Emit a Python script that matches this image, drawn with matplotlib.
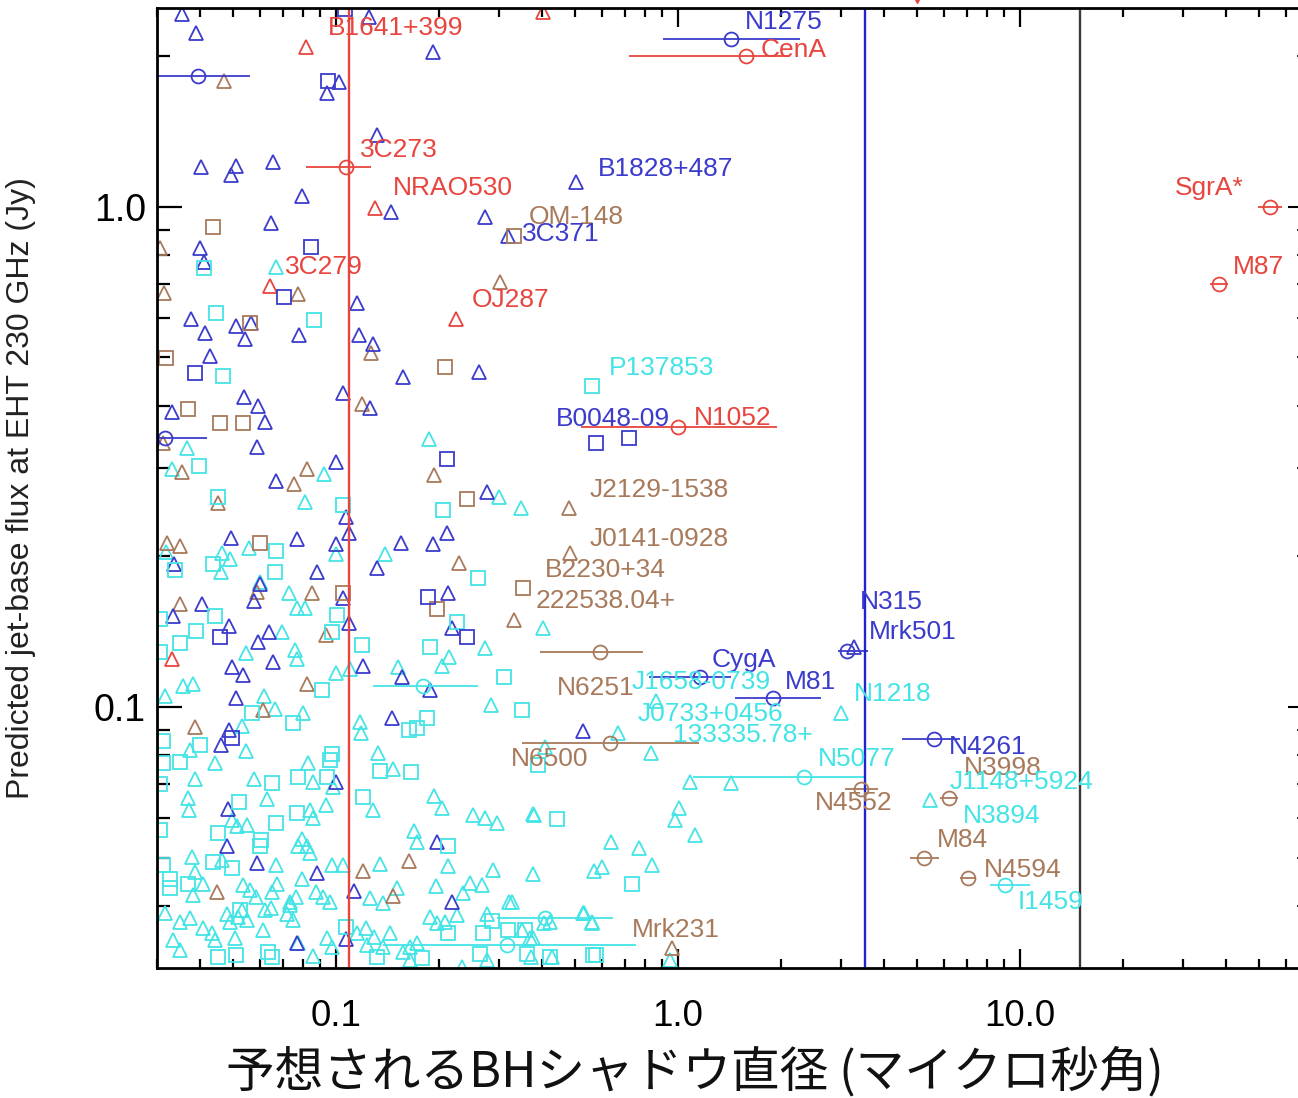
import numpy as np
import matplotlib
matplotlib.use('Agg')
import matplotlib.pyplot as plt
from matplotlib.ticker import LogLocator, NullFormatter

RED = '#e8453f'
BLUE = '#3b3bcc'
BROWN = '#a87a5c'
CYAN = '#44e4e6'

# ---- red sources ----
red_tri_x = [0.0817, 0.403, 0.130, 0.0641, 0.224, 0.0331]
red_tri_y = [2.09, 2.45, 0.995, 0.695, 0.597, 0.125]

red_src = ['3C273', 'CenA', 'N1052', 'SgrA*', 'M87']
red_src_x = [0.107, 1.58, 1.00, 53.8, 38.2]
red_src_y = [1.20, 2.00, 0.363, 1.00, 0.70]
red_src_lo = [0.082, 0.72, 0.52, 49.7, 35.9]
red_src_hi = [0.127, 2.13, 1.95, 58.3, 40.6]

# ---- blue sources ----
blue_src_x = [1.43, 0.0394, 0.0316, 1.16, 1.90, 3.12, 5.61]
blue_src_y = [2.17, 1.83, 0.345, 0.115, 0.104, 0.1294, 0.0863]
blue_src_lo = [0.904, 0.028, 0.028, 0.823, 1.468, 2.94, 4.52]
blue_src_hi = [2.27, 0.0561, 0.0421, 1.43, 2.62, 3.59, 6.68]

blue_sq_x = [0.1063, 0.0947, 0.0846, 0.0705, 0.0387, 0.211, 0.576, 0.720,
             0.186, 0.242, 0.0458, 0.0496]
blue_sq_y = [2.49, 1.79, 0.832, 0.661, 0.465, 0.314, 0.337, 0.345,
             0.166, 0.138, 0.138, 0.0868]

blue_tri_x = [0.0355, 0.0390, 0.125, 0.192, 0.102, 0.0941, 0.132, 0.0403,
              0.0510, 0.0493, 0.0656, 0.0796, 0.145, 0.273, 0.503, 0.318,
              0.0645, 0.0400, 0.0411, 0.115, 0.0377, 0.0414, 0.0510, 0.0565,
              0.0542, 0.0780, 0.117, 0.128, 0.0428, 0.157, 0.262, 0.105,
              0.126, 0.0331, 0.0538, 0.0592, 0.0620, 0.0588, 0.100, 0.0667,
              0.276, 0.107, 0.109, 0.211, 0.192, 0.0493, 0.0769, 0.0999,
              0.155, 0.0336, 0.0880, 0.132, 0.0600, 0.0576, 0.0405, 0.0334,
              0.105, 0.213, 0.109, 0.0487, 0.0637, 0.0592, 0.219, 0.0497,
              0.0535, 0.0656, 0.120, 0.156, 0.188, 0.0510, 0.0487, 0.0462,
              0.146, 0.528, 0.100, 0.0484, 0.197, 0.0480, 0.0588, 0.0880,
              0.113, 0.219, 0.0769, 0.107, 3.27]
blue_tri_y = [2.43, 2.23, 2.40, 2.04, 1.78, 1.69, 1.39, 1.20,
              1.21, 1.16, 1.23, 1.05, 0.977, 0.955, 1.12, 0.875,
              0.929, 0.828, 0.776, 0.643, 0.597, 0.560, 0.578, 0.586,
              0.545, 0.555, 0.555, 0.532, 0.504, 0.457, 0.468, 0.425,
              0.397, 0.389, 0.417, 0.400, 0.372, 0.331, 0.309, 0.283,
              0.269, 0.240, 0.223, 0.223, 0.212, 0.218, 0.217, 0.212,
              0.213, 0.193, 0.186, 0.190, 0.176, 0.163, 0.161, 0.152,
              0.165, 0.169, 0.147, 0.145, 0.141, 0.135, 0.144, 0.120,
              0.116, 0.123, 0.121, 0.115, 0.108, 0.104, 0.0900, 0.0839,
              0.0951, 0.0896, 0.0707, 0.0625, 0.0537, 0.0526, 0.0487, 0.0465,
              0.0429, 0.0407, 0.0337, 0.0344, 0.132]

# ---- brown sources ----
brown_src_x = [0.592, 0.633, 3.43, 6.20, 5.24, 7.05]
brown_src_y = [0.129, 0.0847, 0.0686, 0.0658, 0.0498, 0.0456]
brown_src_lo = [0.395, 0.350, 3.08, 5.84, 4.77, 6.68]
brown_src_hi = [0.79, 1.15, 3.84, 6.59, 5.80, 7.43]

brown_sq_x = [0.0437, 0.332, 0.0318, 0.208, 0.0370, 0.0458, 0.0535, 0.0561,
              0.0600, 0.241, 0.352, 0.197, 0.105]
brown_sq_y = [0.912, 0.875, 0.499, 0.479, 0.395, 0.370, 0.370, 0.586,
              0.213, 0.261, 0.173, 0.157, 0.169]

brown_tri_x = [0.0470, 0.0306, 0.0314, 0.0774, 0.127, 0.119, 0.0312, 0.0355,
               0.0823, 0.0754, 0.0451, 0.193, 0.302, 0.480, 0.484, 0.229,
               0.0321, 0.0350, 0.332, 0.0350, 0.0588, 0.0851, 0.0935, 0.0823,
               0.0612, 0.0387, 0.164, 0.120, 0.0449, 0.147, 0.961]
brown_tri_y = [1.79, 0.828, 0.673, 0.670, 0.510, 0.404, 0.337, 0.295,
               0.299, 0.279, 0.256, 0.291, 0.708, 0.250, 0.203, 0.194,
               0.213, 0.210, 0.149, 0.161, 0.170, 0.169, 0.139, 0.111,
               0.0986, 0.0912, 0.0492, 0.0469, 0.0427, 0.0419, 0.0330]

# ---- cyan sources ----
cyan_src_x = [0.180, 0.409, 0.316, 2.33, 9.03]
cyan_src_y = [0.110, 0.0379, 0.0334, 0.0724, 0.0441]
cyan_src_lo = [0.128, 0.296, 0.137, 1.106, 8.18]
cyan_src_hi = [0.260, 0.646, 0.754, 3.55, 10.7]

cyan_sq_x = [0.0411, 0.0446, 0.0862, 0.0468, 0.0397, 0.0451, 0.105, 0.206,
             0.0338, 0.0437, 0.0670, 0.0663, 0.260, 0.561, 0.0306, 0.0443,
             0.101, 0.0390, 0.0973, 0.0350, 0.119, 0.0306, 0.226, 0.188,
             0.310, 0.350, 0.0910, 0.0568, 0.0747, 0.0312, 0.0400, 0.0350,
             0.0312, 0.0960, 0.0973, 0.163, 0.173, 0.185, 0.1345, 0.166,
             0.0774, 0.0941, 0.0650, 0.0306, 0.0521, 0.0769, 0.0670, 0.0451,
             0.0306, 0.120, 0.213, 0.0600, 0.0605, 0.0312, 0.0437, 0.0496,
             0.0327, 0.0327, 0.0369, 0.443, 0.390, 0.734, 0.318, 0.357,
             0.576, 0.0451, 0.0510, 0.0524, 0.0632, 0.0650, 0.107, 0.213,
             0.269, 0.286, 0.264, 0.362, 0.423, 0.565, 0.179, 0.132]
cyan_sq_y = [0.755, 0.614, 0.594, 0.459, 0.303, 0.263, 0.254, 0.248,
             0.188, 0.193, 0.205, 0.186, 0.181, 0.439, 0.150, 0.152,
             0.153, 0.142, 0.141, 0.134, 0.133, 0.129, 0.148, 0.132,
             0.115, 0.0986, 0.108, 0.0973, 0.0929, 0.0855, 0.0839, 0.0775,
             0.0772, 0.0783, 0.0806, 0.0900, 0.0908, 0.0951, 0.0745, 0.0741,
             0.0724, 0.0724, 0.0704, 0.0701, 0.0646, 0.0613, 0.0586, 0.0560,
             0.0568, 0.0661, 0.0526, 0.0526, 0.0542, 0.0483, 0.0489, 0.0476,
             0.0453, 0.0435, 0.0443, 0.0597, 0.0766, 0.0443, 0.0358, 0.0358,
             0.0319, 0.0316, 0.0319, 0.0393, 0.0323, 0.0316, 0.0363, 0.0353,
             0.0353, 0.0373, 0.0321, 0.0321, 0.0316, 0.0319, 0.0315, 0.0316]

cyan_tri_x = [0.0667, 0.0367, 0.0331, 0.0923, 0.0812, 0.187, 0.299, 0.348,
              0.0318, 0.0464, 0.0490, 0.0555, 0.100, 0.139, 0.0461, 0.0600,
              0.0729, 0.0769, 0.0812, 0.0546, 0.0759, 0.0769, 0.100, 0.110,
              0.152, 0.0696, 0.403, 0.273, 0.214, 0.204, 0.284, 0.0382,
              0.0357, 0.0316, 0.0617, 0.0663, 0.0801, 0.0531, 0.0374, 0.0546,
              0.0443, 0.0829, 0.1175, 0.118, 0.133, 0.147, 0.0857, 0.0979,
              0.0576, 0.0387, 0.0369, 0.0372, 0.0627, 0.0935, 0.0840, 0.0857,
              0.0496, 0.0514, 0.0549, 0.128, 0.193, 0.204, 0.252, 0.273,
              0.296, 0.377, 0.169, 0.172, 0.0796, 0.0823, 0.0774, 0.0840,
              0.0379, 0.0387, 0.0464, 0.0670, 0.0973, 0.105, 0.1345, 0.213,
              0.288, 0.377, 0.0796, 0.0408, 0.0382, 0.0535, 0.0561, 0.0584,
              0.0650, 0.0674, 0.0733, 0.0764, 0.0874, 0.0917, 0.0960, 0.126,
              0.137, 0.151, 0.196, 0.235, 0.247, 0.267, 0.320, 0.276,
              0.423, 0.527, 0.561, 0.0316, 0.0350, 0.0374, 0.0334, 0.0350,
              0.0408, 0.0434, 0.0443, 0.0480, 0.0490, 0.0517, 0.0507, 0.0531,
              0.0549, 0.0612, 0.0620, 0.0645, 0.0720, 0.0747, 0.0733, 0.0774,
              0.0857, 0.0941, 0.0973, 0.115, 0.122, 0.129, 0.123, 0.137,
              0.144, 0.157, 0.165, 0.173, 0.188, 0.197, 0.208, 0.226,
              0.350, 0.369, 0.276, 0.165, 0.233, 0.377, 0.372, 0.428,
              0.947, 0.862, 3.00, 0.668, 0.409, 0.834, 1.084, 1.43,
              5.45, 0.380, 1.007, 0.980, 1.12, 0.637, 0.769, 0.568,
              0.600, 0.839, 0.327, 0.531, 0.406, 0.561]
cyan_tri_y = [0.759, 0.330, 0.299, 0.293, 0.257, 0.344, 0.263, 0.250,
              0.204, 0.203, 0.198, 0.208, 0.202, 0.202, 0.186, 0.178,
              0.169, 0.158, 0.158, 0.128, 0.130, 0.125, 0.117, 0.119,
              0.120, 0.141, 0.144, 0.131, 0.126, 0.121, 0.101, 0.111,
              0.110, 0.105, 0.105, 0.0990, 0.0973, 0.0916, 0.0820, 0.0817,
              0.0772, 0.0772, 0.0933, 0.0888, 0.0810, 0.0752, 0.0707, 0.0692,
              0.0718, 0.0718, 0.0658, 0.0622, 0.0655, 0.0637, 0.0622, 0.0600,
              0.0594, 0.0578, 0.0581, 0.0622, 0.0664, 0.0628, 0.0608, 0.0600,
              0.0586, 0.0611, 0.0565, 0.0536, 0.0545, 0.0528, 0.0528, 0.0511,
              0.0501, 0.0467, 0.0494, 0.0483, 0.0483, 0.0483, 0.0485, 0.0481,
              0.0472, 0.0464, 0.0453, 0.0443, 0.0421, 0.0441, 0.0431, 0.0417,
              0.0427, 0.0443, 0.0407, 0.0417, 0.0427, 0.0417, 0.0407, 0.0415,
              0.0405, 0.0435, 0.0439, 0.0425, 0.0445, 0.0441, 0.0407, 0.0386,
              0.0371, 0.0388, 0.0371, 0.0388, 0.0371, 0.0378, 0.0342, 0.0327,
              0.0361, 0.0353, 0.0342, 0.0386, 0.0371, 0.0380, 0.0345, 0.0393,
              0.0375, 0.0358, 0.0393, 0.0396, 0.0386, 0.0375, 0.0402, 0.0337,
              0.0318, 0.0345, 0.0331, 0.0353, 0.0361, 0.0347, 0.0334, 0.0331,
              0.0353, 0.0323, 0.0331, 0.0337, 0.0380, 0.0370, 0.0371, 0.0384,
              0.0358, 0.0345, 0.0312, 0.0312, 0.0302, 0.0345, 0.0316, 0.0316,
              0.0312, 0.103, 0.0973, 0.0888, 0.0832, 0.0808, 0.0707, 0.0704,
              0.0652, 0.0608, 0.0628, 0.0594, 0.0555, 0.0537, 0.0523, 0.0469,
              0.0479, 0.0483, 0.0407, 0.0388, 0.0369, 0.0369]

# ---- source names (text, colour, anchor x, anchor y) ----
labels = [
    ('B1641+399', RED, 0.0947, 2.28), ('N1275', BLUE, 1.57, 2.34),
    ('CenA', RED, 1.74, 2.06), ('3C273', RED, 0.1175, 1.30),
    ('B1828+487', BLUE, 0.584, 1.19), ('NRAO530', RED, 0.147, 1.09),
    ('SgrA*', RED, 28.4, 1.09), ('OM-148', BROWN, 0.366, 0.955),
    ('3C371', BLUE, 0.350, 0.883), ('3C279', RED, 0.0710, 0.759),
    ('M87', RED, 42.0, 0.759), ('OJ287', RED, 0.250, 0.652),
    ('P137853', CYAN, 0.628, 0.476), ('B0048-09', BLUE, 0.440, 0.377),
    ('N1052', RED, 1.11, 0.379), ('J2129-1538', BROWN, 0.553, 0.272),
    ('J0141-0928', BROWN, 0.553, 0.217), ('B2230+34', BROWN, 0.409, 0.188),
    ('222538.04+', BROWN, 0.384, 0.163), ('N315', BLUE, 3.41, 0.162),
    ('Mrk501', BLUE, 3.62, 0.141), ('CygA', BLUE, 1.257, 0.124),
    ('N6251', BROWN, 0.443, 0.109), ('J1658-0739', CYAN, 0.734, 0.112),
    ('M81', BLUE, 2.055, 0.112), ('N1218', CYAN, 3.27, 0.1064),
    ('J0733+0456', CYAN, 0.764, 0.0969), ('133335.78+', CYAN, 0.967, 0.0879),
    ('N4261', BLUE, 6.20, 0.0832), ('N6500', BROWN, 0.325, 0.0787),
    ('N5077', CYAN, 2.56, 0.0787), ('N3998', BROWN, 6.85, 0.0755),
    ('J1148+5924', CYAN, 6.24, 0.0707), ('N4552', BROWN, 2.51, 0.0644),
    ('N3894', CYAN, 6.81, 0.0605), ('M84', BROWN, 5.72, 0.0542),
    ('N4594', BROWN, 7.86, 0.0472), ('I1459', CYAN, 9.84, 0.0407),
    ('Mrk231', BROWN, 0.734, 0.0358),
]

# vertical reference lines (uas)
vlines = [(0.109, RED), (3.52, '#2222d0'), (15.0, '#3a3a3a')]

plt.rcParams['font.family'] = ['Liberation Sans', 'DejaVu Sans']

fig = plt.figure(figsize=(12.98, 10.98), dpi=100)
ax = fig.add_axes([157 / 1298, 1 - 968 / 1098, 1143 / 1298, 960 / 1098])
ax.set_xscale('log')
ax.set_yscale('log')
ax.set_xlim(0.02997, 65.9)
ax.set_ylim(0.03006, 2.50)

mk = dict(ls='none', mfc='none', ms=10.5, mew=1.3)
for c, xs, ys in [(CYAN, cyan_tri_x, cyan_tri_y), (BROWN, brown_tri_x, brown_tri_y),
                  (BLUE, blue_tri_x, blue_tri_y), (RED, red_tri_x, red_tri_y)]:
    ax.plot(xs, ys, marker='^', mec=c, **mk)
for c, xs, ys in [(CYAN, cyan_sq_x, cyan_sq_y), (BROWN, brown_sq_x, brown_sq_y),
                  (BLUE, blue_sq_x, blue_sq_y)]:
    ax.plot(xs, ys, marker='s', mec=c, **mk)

for c, xs, ys, lo, hi in [(CYAN, cyan_src_x, cyan_src_y, cyan_src_lo, cyan_src_hi),
                          (BROWN, brown_src_x, brown_src_y, brown_src_lo, brown_src_hi),
                          (BLUE, blue_src_x, blue_src_y, blue_src_lo, blue_src_hi),
                          (RED, red_src_x, red_src_y, red_src_lo, red_src_hi)]:
    xs = np.array(xs)
    err = [xs - np.array(lo), np.array(hi) - xs]
    ax.errorbar(xs, ys, xerr=err, fmt='o', mfc='none', mec=c, ecolor=c,
                ms=10, mew=1.3, elinewidth=1.3, capsize=0)

for xv, c in vlines:
    ax.axvline(xv, color=c, lw=1.7)

# marker just above the frame (off-scale source)
ax.plot([5.0], [2.62], marker='v', color=RED, ms=7, clip_on=False)

for name, c, lx, ly in labels:
    ax.text(lx, ly, name, color=c, fontsize=19, ha='left', va='center')

# axes styling
for s in ax.spines.values():
    s.set_linewidth(2.0)
ax.set_xticks([0.1, 1, 10])
ax.set_xticklabels(['0.1', '1.0', '10.0'])
ax.set_yticks([0.1, 1])
ax.set_yticklabels(['0.1', '1.0'])
for axis in (ax.xaxis, ax.yaxis):
    axis.set_minor_locator(LogLocator(base=10, subs=np.arange(2, 10), numticks=20))
    axis.set_minor_formatter(NullFormatter())
ax.tick_params(axis='x', which='major', direction='in', top=True, bottom=True,
               length=13.5, width=1.6, labelsize=26.5, pad=22)
ax.tick_params(axis='x', which='minor', direction='in', top=True, bottom=True,
               length=6.5, width=1.6)
ax.tick_params(axis='y', which='major', direction='in', left=True, right=False,
               length=18, width=1.6, labelsize=27, pad=8)
ax.tick_params(axis='y', which='minor', direction='in', left=True, right=False,
               length=9, width=1.6)

ax2 = ax.twinx()
ax2.set_yscale('log')
ax2.set_ylim(ax.get_ylim())
ax2.set_yticks([0.1, 1])
ax2.yaxis.set_minor_locator(LogLocator(base=10, subs=np.arange(2, 10), numticks=20))
ax2.yaxis.set_major_formatter(NullFormatter())
ax2.yaxis.set_minor_formatter(NullFormatter())
ax2.tick_params(axis='y', which='major', direction='in', length=9, width=1.5)
ax2.tick_params(axis='y', which='minor', direction='in', length=2.5, width=1.2)
for s in ax2.spines.values():
    s.set_visible(False)

ax.set_ylabel('Predicted jet-base flux at EHT 230 GHz (Jy)', fontsize=23,
              color='#222222')
ax.yaxis.set_label_coords(-0.106, 0.5)

fig.text(695 / 1298, 1 - 1072 / 1098, '予想されるBHシャドウ直径 (マイクロ秒角)',
         fontsize=35, ha='center', va='center', color='#111111',
         family=['Noto Sans CJK JP', 'DejaVu Sans'])

fig.savefig('out.png', dpi=100)
